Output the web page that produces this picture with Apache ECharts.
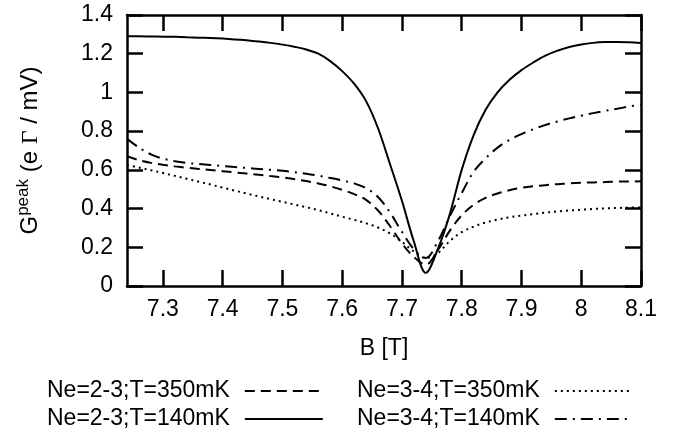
<!DOCTYPE html>
<html>
<head>
<meta charset="utf-8">
<script src="https://cdn.jsdelivr.net/npm/echarts@6/dist/echarts.min.js"></script>
<style>
  html, body { margin: 0; padding: 0; background: #fff; }
  #chart { width: 674px; height: 434px; }
</style>
</head>
<body>
<div id="chart"></div>
<script>
// magnetic field B [T]
const bField = [7.24, 7.26, 7.28, 7.30, 7.32, 7.34, 7.36, 7.38, 7.40, 7.42, 7.44, 7.46, 7.48, 7.50, 7.52,
  7.54, 7.56, 7.58, 7.60, 7.62, 7.64, 7.66, 7.68, 7.70, 7.72, 7.74, 7.76, 7.78, 7.80, 7.82,
  7.84, 7.86, 7.88, 7.90, 7.92, 7.94, 7.96, 7.98, 8.00, 8.02, 8.04, 8.06, 8.08, 8.10];
// G peak values
const ne23T350 = [0.670, 0.650, 0.636, 0.626, 0.618, 0.611, 0.605, 0.599, 0.593, 0.587, 0.581, 0.575, 0.568, 0.561, 0.552,
  0.542, 0.530, 0.515, 0.497, 0.475, 0.445, 0.390, 0.310, 0.220, 0.150, 0.110, 0.185, 0.285, 0.365, 0.420,
  0.455, 0.478, 0.495, 0.507, 0.515, 0.521, 0.526, 0.530, 0.533, 0.535, 0.537, 0.539, 0.540, 0.541];
const ne23T140 = [1.290, 1.290, 1.289, 1.288, 1.287, 1.285, 1.283, 1.281, 1.278, 1.274, 1.269, 1.263, 1.256, 1.247, 1.236,
  1.222, 1.200, 1.162, 1.110, 1.045, 0.955, 0.815, 0.630, 0.440, 0.230, 0.068, 0.190, 0.370, 0.600, 0.780,
  0.910, 1.000, 1.065, 1.115, 1.155, 1.190, 1.215, 1.235, 1.248, 1.256, 1.260, 1.261, 1.259, 1.255];
const ne34T350 = [0.625, 0.612, 0.598, 0.584, 0.569, 0.554, 0.539, 0.524, 0.508, 0.493, 0.478, 0.463, 0.449, 0.435, 0.421,
  0.407, 0.392, 0.375, 0.358, 0.342, 0.324, 0.302, 0.272, 0.228, 0.178, 0.145, 0.170, 0.232, 0.278, 0.307,
  0.328, 0.343, 0.355, 0.364, 0.372, 0.379, 0.385, 0.390, 0.394, 0.398, 0.401, 0.403, 0.405, 0.406];
const ne34T140 = [0.760, 0.715, 0.680, 0.658, 0.645, 0.636, 0.630, 0.625, 0.620, 0.615, 0.610, 0.605, 0.600, 0.595, 0.588,
  0.580, 0.570, 0.558, 0.545, 0.530, 0.505, 0.460, 0.380, 0.280, 0.190, 0.145, 0.230, 0.360, 0.480, 0.590,
  0.660, 0.715, 0.755, 0.785, 0.810, 0.832, 0.850, 0.866, 0.880, 0.893, 0.905, 0.916, 0.927, 0.938];
const xTicks = [7.3, 7.4, 7.5, 7.6, 7.7, 7.8, 7.9, 8.0, 8.1];
const names = ['Ne=2-3;T=350mK', 'Ne=2-3;T=140mK', 'Ne=3-4;T=350mK', 'Ne=3-4;T=140mK'];

const font = 'Liberation Sans, Arial, sans-serif';
const pair = arr => bField.map((b, i) => [b, arr[i]]);
const fmt = v => String(parseFloat(v.toFixed(1)));

function mkLine(name, data, type) {
  return {
    name: name,
    type: 'line',
    data: pair(data),
    symbol: 'none',
    smooth: 0.35,
    lineStyle: { color: '#000', width: 2, type: type },
    itemStyle: { color: '#000' }
  };
}

const frameX = {
  type: 'value', min: 7.24, max: 8.1,
  axisLine: { show: true, onZero: false, lineStyle: { color: '#000', width: 2.5 } },
  axisTick: { show: true, inside: true, length: 16, customValues: xTicks, lineStyle: { color: '#000', width: 2.5 } },
  splitLine: { show: false }
};
const frameY = {
  type: 'value', min: 0, max: 1.4, interval: 0.2,
  axisLine: { show: true, onZero: false, lineStyle: { color: '#000', width: 2.5 } },
  axisTick: { show: true, inside: true, length: 16, lineStyle: { color: '#000', width: 2.5 } },
  splitLine: { show: false }
};
const legendBase = {
  top: 379,
  padding: 0,
  orient: 'vertical', align: 'right',
  itemWidth: 78, itemHeight: 10, itemGap: 4,
  itemStyle: { opacity: 0, borderWidth: 0 },
  textStyle: { color: '#000', fontSize: 23, lineHeight: 24, fontFamily: font, padding: [0, 10, 0, 0] }
};

let myChart = echarts.init(document.getElementById('chart'));
myChart.setOption({
  animation: false,
  backgroundColor: '#fff',
  grid: { left: 127, right: 33, top: 15, bottom: 148 },
  xAxis: [
    Object.assign({}, frameX, {
      position: 'bottom',
      name: 'B [T]',
      nameLocation: 'middle',
      nameGap: 51,
      nameTextStyle: { color: '#000', fontSize: 23, fontFamily: font },
      axisLabel: { show: true, margin: 12, customValues: xTicks, color: '#000', fontSize: 23, fontFamily: font, formatter: fmt }
    }),
    Object.assign({}, frameX, { position: 'top', axisLabel: { show: false } })
  ],
  yAxis: [
    Object.assign({}, frameY, {
      position: 'left',
      name: '{g|G}{sup|peak}{g| (e }{gam|Γ}{g| / mV)}',
      nameLocation: 'middle',
      nameRotate: 90,
      nameGap: 81,
      nameTextStyle: {
        color: '#000',
        rich: {
          g: { fontSize: 24, fontFamily: font, color: '#000' },
          sup: { fontSize: 17, fontFamily: font, color: '#000', padding: [0, 0, 14, 0] },
          gam: { fontSize: 24, fontFamily: 'Liberation Serif, serif', color: '#000' }
        }
      },
      axisLabel: { show: true, margin: 14, color: '#000', fontSize: 23, fontFamily: font, formatter: fmt }
    }),
    Object.assign({}, frameY, { position: 'right', axisLabel: { show: false } })
  ],
  legend: [
    Object.assign({}, legendBase, { data: [names[0], names[1]], left: 47 }),
    Object.assign({}, legendBase, { data: [names[2], names[3]], left: 357 })
  ],
  series: [
    mkLine(names[0], ne23T350, [10, 6]),
    mkLine(names[1], ne23T140, 'solid'),
    mkLine(names[2], ne34T350, [2, 4]),
    mkLine(names[3], ne34T140, [12, 6, 2, 6])
  ]
});
</script>
</body>
</html>
